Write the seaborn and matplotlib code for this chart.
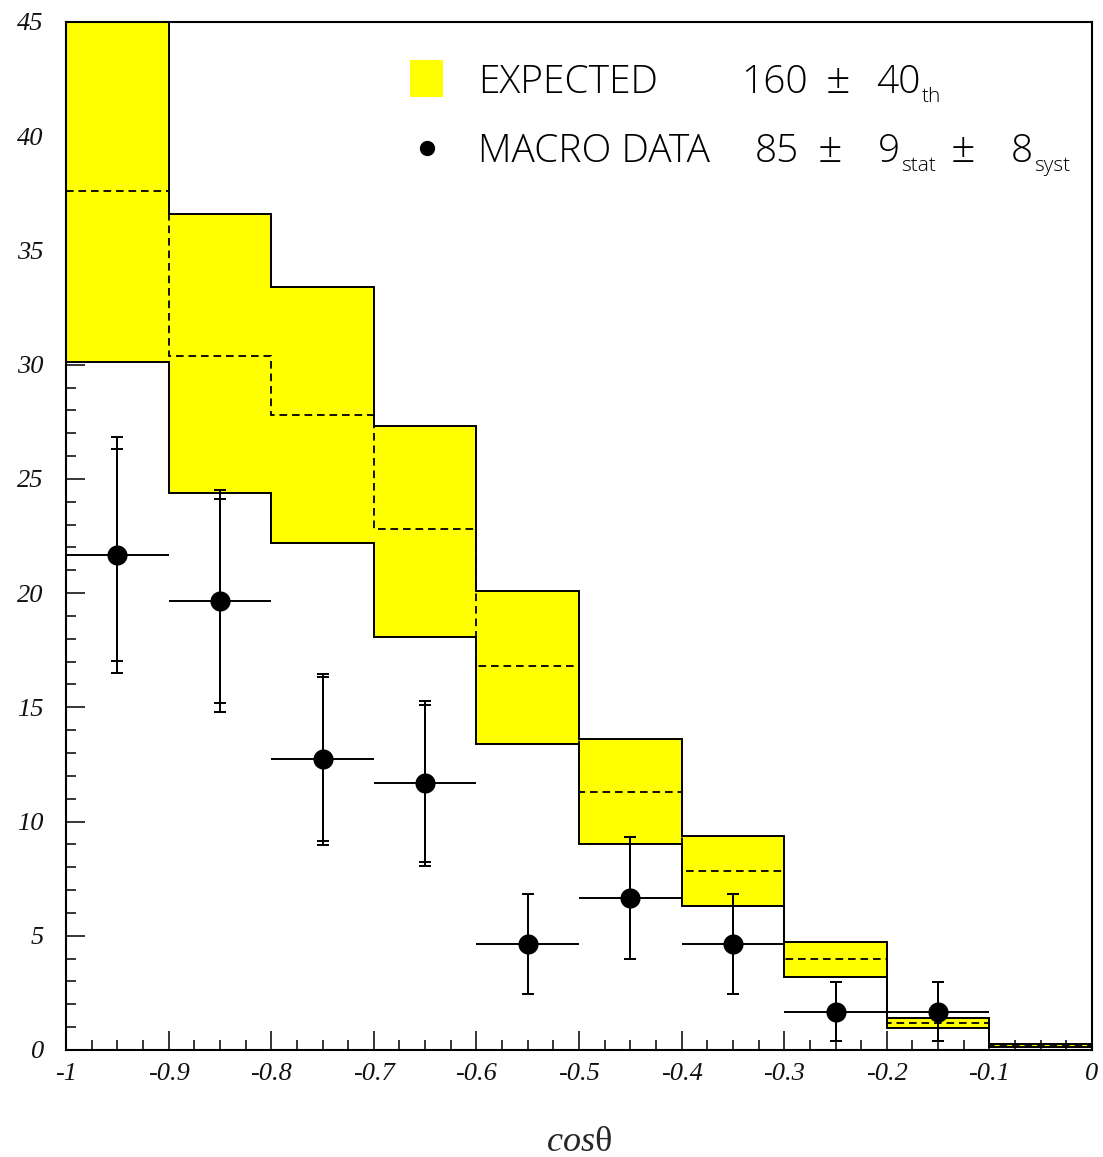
import matplotlib
matplotlib.use("Agg")
import matplotlib.pyplot as plt
import seaborn as sns
from matplotlib.ticker import MultipleLocator, FuncFormatter
from matplotlib.patches import Rectangle
from matplotlib.lines import Line2D

# ---- data -------------------------------------------------------------
bin_edges = [-1.0, -0.9, -0.8, -0.7, -0.6, -0.5, -0.4, -0.3, -0.2, -0.1, 0.0]

# expected distribution: central value and theoretical band
expected_mean = [37.6, 30.4, 27.8, 22.8, 16.8, 11.3, 7.84, 3.98, 1.18, 0.20]
expected_high = [45.1, 36.6, 33.4, 27.3, 20.1, 13.6, 9.37, 4.73, 1.42, 0.28]
expected_low = [30.1, 24.4, 22.2, 18.1, 13.4, 9.0, 6.30, 3.20, 0.95, 0.12]

# measured events
data_cos = [-0.95, -0.85, -0.75, -0.65, -0.55, -0.45, -0.35, -0.25, -0.15]
data_halfwidth = [0.05, 0.05, 0.05, 0.05, 0.05, 0.05, 0.05, 0.05, 0.05]
data_counts = [21.67, 19.66, 12.72, 11.67, 4.64, 6.64, 4.64, 1.68, 1.68]
err_stat = [4.65, 4.46, 3.59, 3.43, 2.20, 2.67, 2.20, 1.28, 1.28]
err_total = [5.15, 4.85, 3.75, 3.60, 2.20, 2.67, 2.20, 1.28, 1.28]

x_ticks_major = 0.1
x_ticks_minor = 0.025
y_ticks_major = 5
y_ticks_minor = 1

# ---- style ------------------------------------------------------------
sns.set_theme(style="ticks")
plt.rcParams["font.family"] = ["Liberation Serif", "DejaVu Serif"]
plt.rcParams["axes.unicode_minus"] = False
plt.rcParams["lines.scale_dashes"] = False
plt.rcParams["mathtext.fontset"] = "custom"
plt.rcParams["mathtext.rm"] = "Liberation Serif"
plt.rcParams["mathtext.it"] = "Liberation Serif:italic"

W, H = 1103, 1157
fig = plt.figure(figsize=(W / 100, H / 100), dpi=100)
fig.patch.set_facecolor("white")
ax = fig.add_axes([66 / W, 1 - 1050 / H, (1092 - 66) / W, (1050 - 22) / H])
ax.set_facecolor("white")
ax.set_axisbelow(True)

YELLOW = "#ffff00"

# band
ax.stairs(expected_high, bin_edges, baseline=expected_low, fill=True,
          color=YELLOW, linewidth=0, zorder=1)
ax.stairs(expected_high, bin_edges, baseline=None, color="black", linewidth=1.4, zorder=2)
ax.stairs(expected_low, bin_edges, baseline=None, color="black", linewidth=1.4, zorder=2)
ax.stairs(expected_mean, bin_edges, baseline=None, color="black", linewidth=1.3,
          linestyle=(0, (5.5, 3.5)), zorder=2)

# data: horizontal bars, total and statistical error caps, markers
ax.errorbar(data_cos, data_counts, xerr=data_halfwidth, fmt="none", ecolor="black",
            elinewidth=1.4, capsize=0, zorder=3)
ax.errorbar(data_cos, data_counts, yerr=err_total, fmt="none", ecolor="black",
            elinewidth=1.4, capsize=4.6, capthick=1.4, zorder=3)
ax.errorbar(data_cos, data_counts, yerr=err_stat, fmt="none", ecolor="black",
            elinewidth=1.4, capsize=4.6, capthick=1.4, zorder=3)
sns.scatterplot(x=data_cos, y=data_counts, color="black", s=210, marker="o",
                linewidth=0, zorder=4, ax=ax, legend=False)

# axes
ax.set_xlim(-1, 0)
ax.set_ylim(0, 45)
ax.xaxis.set_major_locator(MultipleLocator(x_ticks_major))
ax.xaxis.set_minor_locator(MultipleLocator(x_ticks_minor))
ax.yaxis.set_major_locator(MultipleLocator(y_ticks_major))
ax.yaxis.set_minor_locator(MultipleLocator(y_ticks_minor))
fmt = FuncFormatter(lambda v, p: f"{v:g}" if abs(v) > 1e-9 else "0")
ax.xaxis.set_major_formatter(fmt)
ax.yaxis.set_major_formatter(fmt)
ax.tick_params(which="both", direction="in", top=False, right=False,
               color="black", width=1.1)
ax.tick_params(which="major", length=14)
ax.tick_params(which="minor", length=7)
ax.tick_params(axis="x", pad=9)
ax.tick_params(axis="y", pad=16)
for lab in ax.get_xticklabels() + ax.get_yticklabels():
    lab.set_fontstyle("italic")
    lab.set_fontsize(19)
    lab.set_color("#111111")
for sp in ax.spines.values():
    sp.set_visible(True)
    sp.set_color("black")
    sp.set_linewidth(1.5)
ax.grid(False)

ax.set_xlabel(r"$\mathit{cos}\mathrm{\theta}$", fontsize=26, labelpad=30)
ax.set_ylabel("")


# ---- legend -----------------------------------------------------------
def px(x, y):
    return x / W, 1 - y / H


fam = ["Open Sans", "DejaVu Sans"]
lf = dict(family=fam, weight="light", size=28, color="black",
          va="baseline", ha="left")
pm = dict(lf, size=31)
sf = dict(family=fam, weight="light", size=15, color="black",
          va="baseline", ha="left")

fig.add_artist(Rectangle(px(410, 97), 33 / W, 37 / H, transform=fig.transFigure,
                         facecolor=YELLOW, edgecolor="none"))
fig.add_artist(Line2D([427 / W], [1 - 148 / H], marker="o", markersize=10,
                      color="black", transform=fig.transFigure))


def sub(parent, s):
    return ax.annotate(s, xy=(1, 0), xycoords=parent, xytext=(1, 0),
                       textcoords="offset points", **sf)


fig.text(*px(478, 93), "EXPECTED", **lf)
fig.text(*px(741, 93), "160", **lf)
fig.text(*px(826, 93), "±", **pm)
t = fig.text(*px(876, 93), "40", **lf)
sub(t, "th")

fig.text(*px(478, 162), "MACRO DATA", **lf)
fig.text(*px(755, 162), "85", **lf)
fig.text(*px(818, 162), "±", **pm)
t = fig.text(*px(878, 162), "9", **lf)
sub(t, "stat")
fig.text(*px(951, 162), "±", **pm)
t = fig.text(*px(1011, 162), "8", **lf)
sub(t, "syst")

fig.savefig("out.png", dpi=100)
